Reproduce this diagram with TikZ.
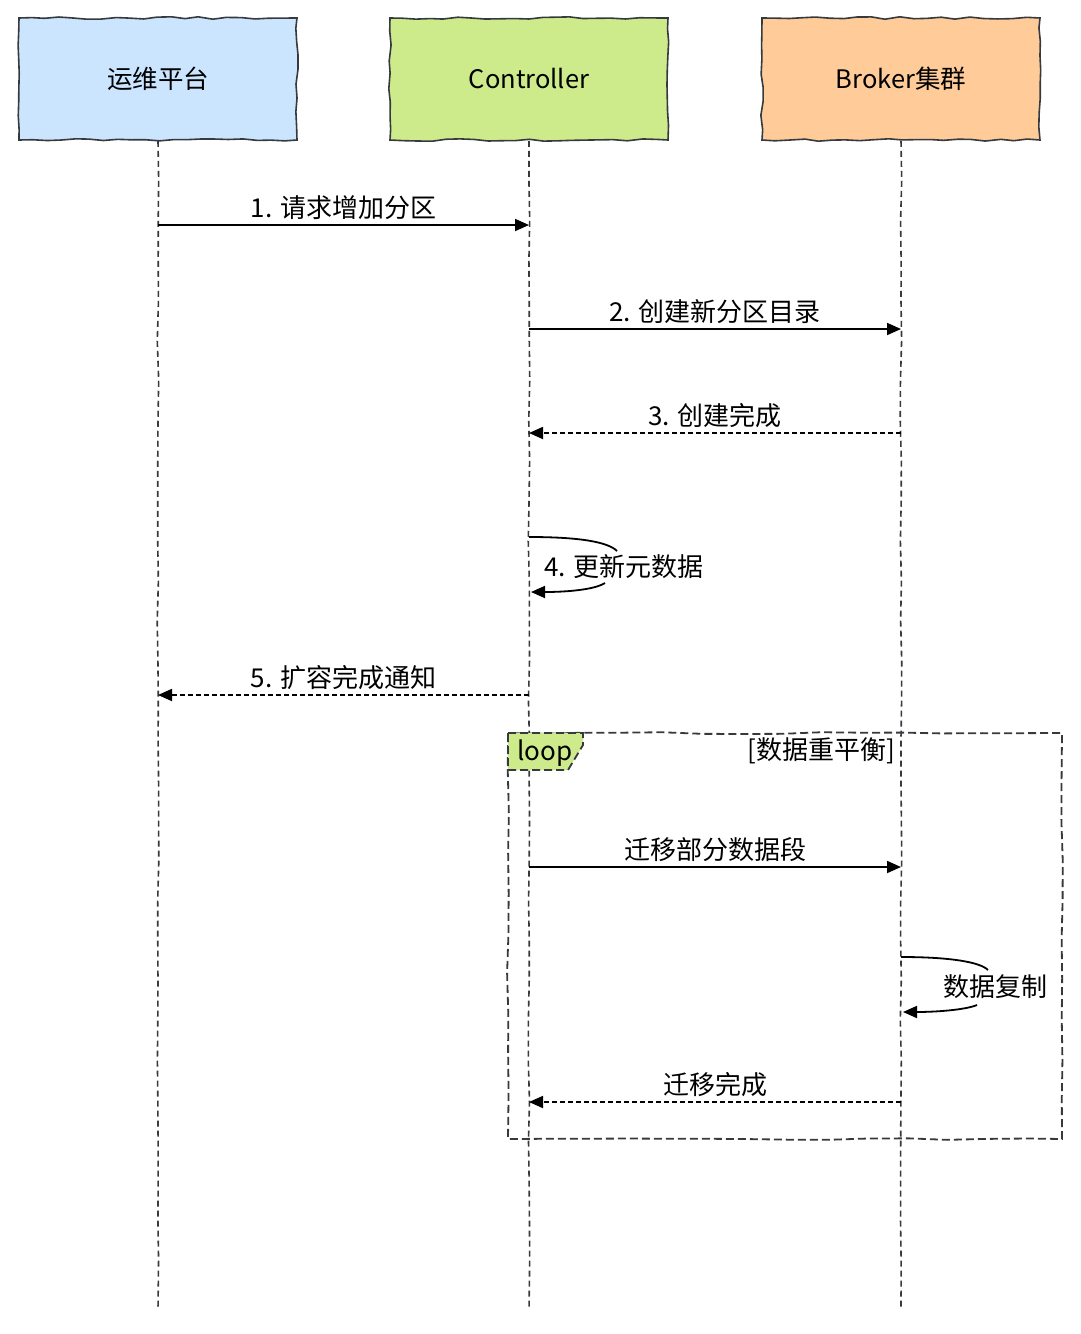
\documentclass[tikz,border=0pt]{standalone}
\usepackage{fontspec}
\setmainfont{Noto Sans CJK SC}
\usepackage{tikz}
\usetikzlibrary{positioning,arrows.meta,decorations.pathmorphing}

\definecolor{opsblue}{HTML}{CCE5FF}
\definecolor{ctlgreen}{HTML}{CDEB8B}
\definecolor{brkorange}{HTML}{FFCC99}
\definecolor{inkgray}{HTML}{36393D}

\begin{document}
\begin{tikzpicture}[x=1pt,y=-1pt]
  \pgfmathsetseed{7}
  \tikzset{ActorStyle/.style = {
    shape         = rectangle,
    draw          = inkgray,
    line width    = 1.6pt,
    text          = black,
    minimum width = 278pt,
    minimum height= 122pt,
    font          = \fontsize{25.5}{30}\selectfont,
    decorate,
    decoration    = {random steps, segment length=14pt, amplitude=1.2pt}
    }
  }
  \tikzset{LifeStyle/.style = {
    draw          = inkgray,
    line width    = 1.6pt,
    dash pattern  = on 6pt off 4pt,
    decorate,
    decoration    = {random steps, segment length=40pt, amplitude=0.8pt}
    }
  }
  \tikzset{MsgStyle/.style = {
    draw          = black,
    line width    = 1.8pt,
    -{Triangle[length=14pt,width=12pt]}
    }
  }
  \tikzset{ReplyStyle/.style = {
    MsgStyle,
    dash pattern  = on 5pt off 3pt
    }
  }
  \tikzset{LabelStyle/.style = {
    text          = black,
    inner sep     = 4pt,
    font          = \fontsize{26}{30}\selectfont
    }
  }
  \tikzset{FrameStyle/.style = {
    draw          = inkgray,
    line width    = 1.8pt,
    dash pattern  = on 8pt off 4pt
    }
  }

  \useasboundingbox[fill=white] (0,0) rectangle (1080,1334);

  \node[ActorStyle, fill=opsblue](ops) at (158,79) {运维平台};
  \node[ActorStyle, fill=ctlgreen](ctl) at (529,79) {Controller};
  \node[ActorStyle, fill=brkorange](brk) at (901,79) {Broker集群};

  \coordinate (ops-end) at (158,1310);
  \coordinate (ctl-end) at (529,1310);
  \coordinate (brk-end) at (901,1310);
  \draw[LifeStyle](ops.south) -- (ops-end);
  \draw[LifeStyle](ctl.south) -- (ctl-end);
  \draw[LifeStyle](brk.south) -- (brk-end);

  \coordinate (ops-1) at (158,225);
  \coordinate (ctl-1) at (529,225);
  \coordinate (ctl-2) at (529,329);
  \coordinate (brk-2) at (901,329);
  \coordinate (brk-3) at (901,433);
  \coordinate (ctl-3) at (529,433);
  \coordinate (ctl-4a) at (529,537);
  \coordinate (ctl-4b) at (531,592);
  \coordinate (ctl-5) at (529,695);
  \coordinate (ops-5) at (158,695);
  \coordinate (ctl-6) at (529,867);
  \coordinate (brk-6) at (901,867);
  \coordinate (brk-7a) at (901,957);
  \coordinate (brk-7b) at (903,1012);
  \coordinate (brk-8) at (901,1102);
  \coordinate (ctl-8) at (529,1102);

  \draw[MsgStyle](ops-1) -- node[LabelStyle, above](m1) {1. 请求增加分区} (ctl-1);
  \draw[MsgStyle](ctl-2) -- node[LabelStyle, above](m2) {2. 创建新分区目录} (brk-2);
  \draw[ReplyStyle](brk-3) -- node[LabelStyle, above](m3) {3. 创建完成} (ctl-3);

  \node[LabelStyle](m4) at (624,567) {4. 更新元数据};
  \draw[line width=1.8pt](ctl-4a) .. controls (580,537) and (608,542) .. (617,551);
  \draw[MsgStyle](605,583) .. controls (594,590) and (565,592) .. (ctl-4b);

  \draw[ReplyStyle](ctl-5) -- node[LabelStyle, above](m5) {5. 扩容完成通知} (ops-5);

  \draw[FrameStyle, decorate, decoration={random steps, segment length=40pt, amplitude=1pt}](508,733) rectangle (1062,1139);
  \draw[FrameStyle, fill=ctlgreen](508,733) -- (583,733) -- (583,745) -- (568,770) -- (508,770) -- cycle;
  \node[LabelStyle](loop) at (545,753) {loop};
  \node[LabelStyle, anchor=east](cond) at (899,751) {[数据重平衡]};

  \draw[MsgStyle](ctl-6) -- node[LabelStyle, above](m6) {迁移部分数据段} (brk-6);

  \node[LabelStyle](m7) at (995,987) {数据复制};
  \draw[line width=1.8pt](brk-7a) .. controls (950,957) and (980,962) .. (988,970);
  \draw[MsgStyle](977,1005) .. controls (965,1010) and (935,1012) .. (brk-7b);

  \draw[ReplyStyle](brk-8) -- node[LabelStyle, above](m8) {迁移完成} (ctl-8);

\end{tikzpicture}
\end{document}
